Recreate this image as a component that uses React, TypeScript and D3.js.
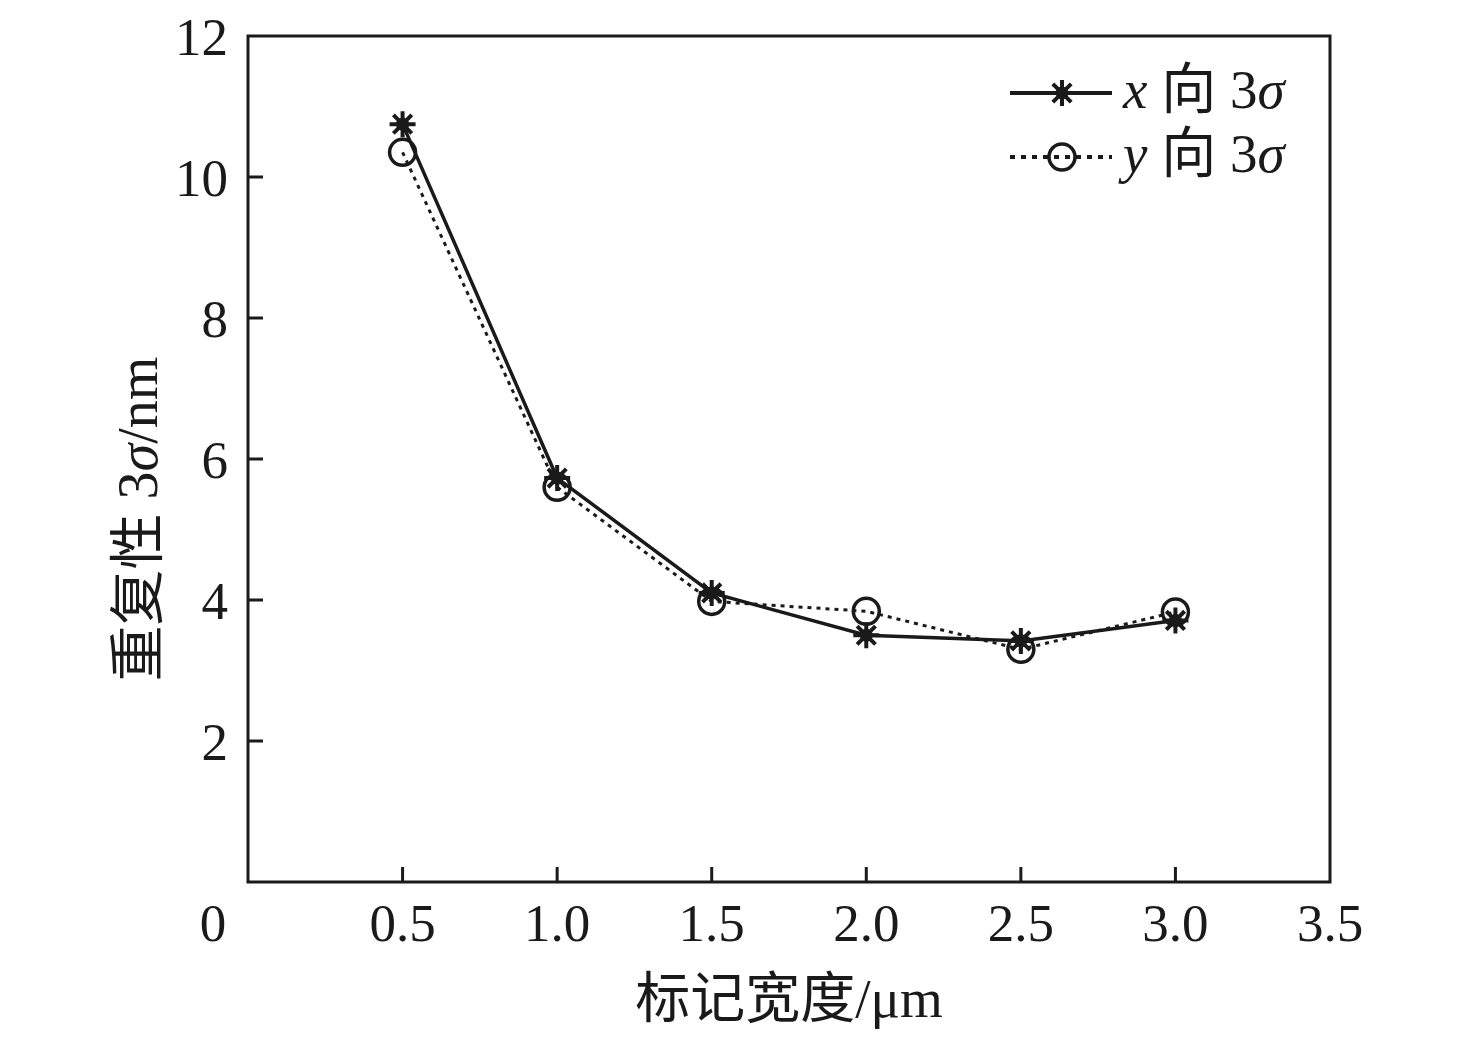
import React from 'react';
import * as d3 from 'd3';

// values
const widths = [0.5, 1.0, 1.5, 2.0, 2.5, 3.0];
const xSigma = [10.75, 5.73, 4.1, 3.5, 3.42, 3.71];
const ySigma = [10.35, 5.6, 3.98, 3.84, 3.3, 3.83];
const xTicks = [0, 0.5, 1.0, 1.5, 2.0, 2.5, 3.0, 3.5];
const yTicks = [2, 4, 6, 8, 10, 12];

const W = 1476;
const H = 1039;
const margin = { top: 36, right: 146, bottom: 157, left: 248 };
const serif = '"Liberation Serif", "DejaVu Serif", "Noto Sans CJK SC", serif';

const x = d3.scaleLinear().domain([0, 3.5]).range([margin.left, W - margin.right]);
const y = d3.scaleLinear().domain([0, 12]).range([H - margin.bottom, margin.top]);

const starPath = (r: number) => {
  let p = '';
  for (let i = 0; i < 4; i++) {
    const a = (i * Math.PI) / 4;
    const dx = Math.cos(a) * r;
    const dy = Math.sin(a) * r;
    p += `M${-dx},${-dy}L${dx},${dy}`;
  }
  return p;
};

const Star = ({ cx, cy }: { cx: number; cy: number }) => (
  <g transform={`translate(${cx},${cy})`}>
    <path d={starPath(13)} stroke="#1a1a1a" strokeWidth={4} fill="none" />
    <circle r={6.5} fill="#1a1a1a" />
  </g>
);

const Ring = ({ cx, cy }: { cx: number; cy: number }) => (
  <circle cx={cx} cy={cy} r={13} fill="none" stroke="#1a1a1a" strokeWidth={3.5} />
);

export default function App() {
  const line = d3.line<number>().x((_, i) => x(widths[i])).y(d => y(d));
  const x0 = x(0);
  const x1 = x(3.5);
  const y0 = y(0);
  const y1 = y(12);

  return (
    <svg width={W} height={H} style={{ position: 'absolute', left: 0, top: 0, background: '#fff' }}
      fontFamily={serif} fill="#1a1a1a">
      {/* frame */}
      <path d={`M${x0},${y1}H${x1}V${y0}H${x0}Z`} fill="none" stroke="#1a1a1a" strokeWidth={3} />

      {/* y ticks (inward) */}
      {yTicks.map(t => (
        <g key={t}>
          {t < 12 && <line x1={x0} x2={x0 + 15} y1={y(t)} y2={y(t)} stroke="#1a1a1a" strokeWidth={3} />}
          <text x={x0 - 20} y={y(t)} dy="0.35em" textAnchor="end" fontSize={53}>{t}</text>
        </g>
      ))}

      {/* x ticks (inward) */}
      {xTicks.map(t => (
        <g key={t}>
          {t > 0 && t < 3.5 && <line x1={x(t)} x2={x(t)} y1={y0} y2={y0 - 15} stroke="#1a1a1a" strokeWidth={3} />}
          <text x={t === 0 ? x(t) - 35 : x(t)} y={941} textAnchor="middle" fontSize={53}>
            {t === 0 ? '0' : t.toFixed(1)}
          </text>
        </g>
      ))}

      {/* axis titles */}
      <text x={(x0 + x1) / 2} y={1017} textAnchor="middle" fontSize={55}>标记宽度/μm</text>
      <text transform={`translate(157,${(y0 + y1) / 2 + 60}) rotate(-90)`} textAnchor="middle" fontSize={56}>
        重复性 3<tspan fontStyle="italic">σ</tspan>/nm
      </text>

      {/* series */}
      <path d={line(ySigma) ?? ''} fill="none" stroke="#1a1a1a" strokeWidth={3} strokeDasharray="4,5" />
      <path d={line(xSigma) ?? ''} fill="none" stroke="#1a1a1a" strokeWidth={3.5} />
      {ySigma.map((v, i) => <Ring key={'r' + i} cx={x(widths[i])} cy={y(v)} />)}
      {xSigma.map((v, i) => <Star key={'s' + i} cx={x(widths[i])} cy={y(v)} />)}

      {/* legend */}
      <g>
        <line x1={1010} x2={1112} y1={93} y2={93} stroke="#1a1a1a" strokeWidth={4} />
        <Star cx={1062} cy={93} />
        <text x={1123} y={108} fontSize={55}>
          <tspan fontStyle="italic">x</tspan> 向 3<tspan fontStyle="italic">σ</tspan>
        </text>
        <line x1={1010} x2={1112} y1={157} y2={157} stroke="#1a1a1a" strokeWidth={4} strokeDasharray="5,6" />
        <Ring cx={1062} cy={157} />
        <text x={1123} y={172} fontSize={55}>
          <tspan fontStyle="italic">y</tspan> 向 3<tspan fontStyle="italic">σ</tspan>
        </text>
      </g>
    </svg>
  );
}
